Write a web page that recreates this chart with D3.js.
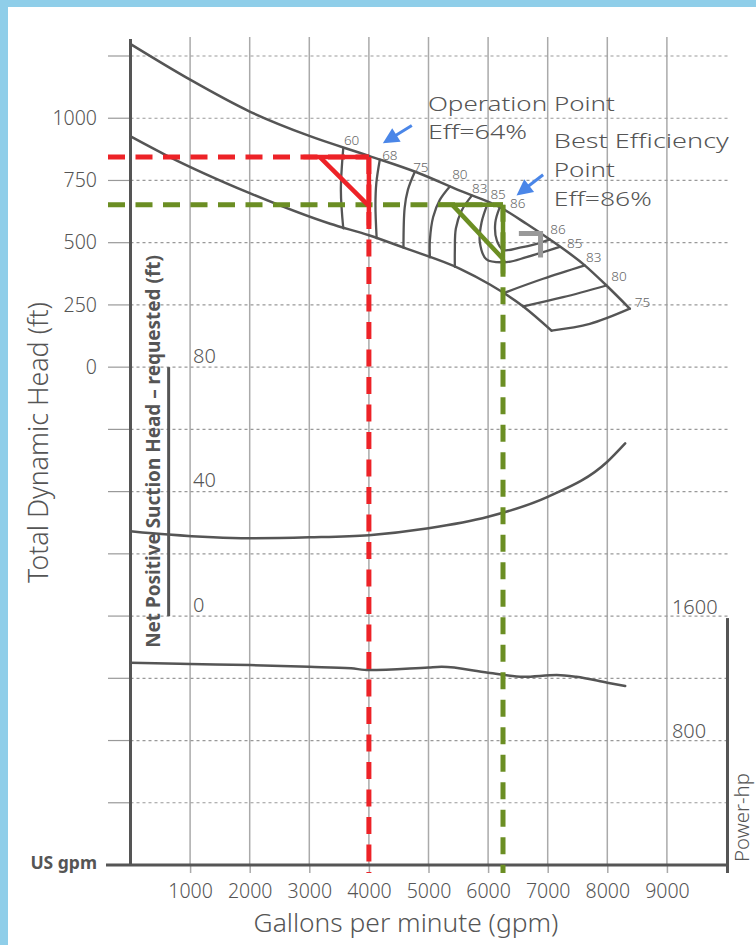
<!DOCTYPE html>
<html><head><meta charset="utf-8">
<script src="https://cdn.jsdelivr.net/npm/d3@7/dist/d3.min.js"></script>
<style>
html,body{margin:0;padding:0;background:#fff;overflow:hidden;}
svg{display:block;}
</style></head><body>
<svg id="chart" width="756" height="945"></svg>
<script>
// ---------------- data ----------------
const gpmTicks   = [1000,2000,3000,4000,5000,6000,7000,8000,9000];
const headTicks  = [0,250,500,750,1000];
const npshTicks  = [0,40,80];
const powerTicks = [800,1600];
const gridLevels = [-1750,-1500,-1250,-1000,-750,-500,-250,0,250,500,750,1000,1250];

// head curves (gpm, ft)
const headUpper = [[0,1298],[1000,1155],[2000,1027],[3000,929],[4000,849],[4800,783],[5526,709],[6197,643],[6644,576],[7035,513],[7622,409],[7986,328],[8377,235]];
const headLower = [[0,927],[600,851],[2000,699],[3350,576],[4000,530],[4630,476],[5530,395],[6030,332],[6590,244],[7064,147]];

// iso-efficiency lines (gpm, ft)
const eff60  = [[3570,880],[3530,710],[3570,558]];
const eff68  = [[4184,834],[4125,740],[4110,650],[4130,518]];
const eff75  = [[4771,785],[4654,712],[4600,640],[4580,480]];
const eff80  = [[5358,726],[5190,672],[5078,603],[5023,509],[5023,441]];
const eff83  = [[5727,689],[5559,630],[5459,557],[5442,469],[5442,403]];
const eff85  = [[6000,662],[5890,581],[5861,502],[5973,433],[6309,422],[6644,442],[7203,483]];
const eff86  = [[6197,643],[6121,581],[6146,509],[6252,471],[6532,480],[6783,493],[7035,513]];
const eff83R = [[6252,297],[6923,355],[7622,409]];
const eff80R = [[6590,244],[7258,281],[7986,328]];
const eff75R = [[7064,147],[7706,174],[8377,235]];
const effLabels = [[60,3710,911],[68,4352,851],[75,4872,804],[80,5526,774],[83,5861,721],[85,6168,696],[86,6498,659],
                   [86,7174,556],[85,7455,498],[83,7773,440],[80,8197,364],[75,8590,261]];
const bepMark = [[6516,537],[6880,537],[6880,441]];

// NPSH required (gpm, ft) and power (gpm, hp)
const npshCurve  = [[0,27.3],[634,26.2],[2000,25.0],[3000,25.3],[4000,26.0],[5000,28.2],[6000,31.9],[7000,38.3],[8000,49.6],[8300,55.5]];
const powerCurve = [[0,1300],[1000,1292],[2000,1285],[3000,1274],[3700,1264],[4000,1253],[5000,1270],[5220,1274],[6000,1236],[6590,1210],[7150,1221],[7480,1210],[8000,1172],[8300,1150]];

// operation point / best efficiency point (gpm, ft)
const opPoint   = [4000,844];
const opSolidH  = [[2900,844],[4000,844]];
const opDiag    = [[3178,844],[3990,650]];
const opSolidV  = [[4000,844],[4000,569]];
const bepPoint  = [6250,652];
const bepSolidH = [[5162,652],[6250,652]];
const bepDiag   = [[5400,652],[6250,435]];
const bepSolidV = [[6250,652],[6250,376]];
const opArrow   = [[4720,971],[4234,899]];
const bepArrow  = [[6923,773],[6477,690]];
const opText    = ["Operation Point","Eff=64%"];
const bepText   = ["Best Efficiency","Point","Eff=86%"];
const opTextAt  = [4990,1031];
const bepTextAt = [7102,879];

// ---------------- layout ----------------
const W = 756, H = 945;
const FONT = "'Noto Sans', sans-serif";
const WT = 300;
const TXT = "#555";
const svg = d3.select('#chart');

const x = d3.scaleLinear().domain([0,10000]).range([130.5,726.5]);
const yHead  = d3.scaleLinear().domain([-2000,1250]).range([865,56]);
const yNpsh  = d3.scaleLinear().domain([0,80]).range([yHead(-1000), yHead(0)]);
const yPow   = d3.scaleLinear().domain([0,1600]).range([yHead(-2000), yHead(-1000)]);
const X0 = x(0), XR = x(10000), YB = yHead(-2000);

// frame
svg.append('rect').attr('width',W).attr('height',H).attr('fill','#8fcee9');
svg.append('rect').attr('x',8).attr('y',7).attr('width',W-8).attr('height',H-7).attr('fill','#fff');

function fit(sel, w){
  const L = sel.node().getComputedTextLength();
  const fs = parseFloat(sel.attr('font-size'));
  sel.attr('font-size', (fs*w/L).toFixed(2));
  return fs*w/L;
}

// vertical grid
svg.append('g').selectAll('line').data(gpmTicks).join('line')
  .attr('x1',d=>x(d)).attr('x2',d=>x(d)).attr('y1',37).attr('y2',YB)
  .attr('stroke','#aaa').attr('stroke-width',1.5);

// horizontal grid: solid tick + dashed line
const hg = svg.append('g');
hg.selectAll('line.t').data(gridLevels).join('line').attr('class','t')
  .attr('x1',X0-22.5).attr('x2',X0).attr('y1',d=>yHead(d)).attr('y2',d=>yHead(d))
  .attr('stroke','#999').attr('stroke-width',1.2);
hg.selectAll('line.d').data(gridLevels).join('line').attr('class','d')
  .attr('x1',X0).attr('x2',XR+1.5).attr('y1',d=>yHead(d)).attr('y2',d=>yHead(d))
  .attr('stroke','#999').attr('stroke-width',1.2).attr('stroke-dasharray','3,3');

// bottom axis with ticks
const ax = svg.append('g').attr('transform',`translate(0,${YB})`)
  .call(d3.axisBottom(x).tickValues(gpmTicks).tickSize(8).tickFormat(d3.format('d')));
ax.select('.domain').remove();
ax.selectAll('line').attr('stroke','#aaa').attr('stroke-width',1.5);
ax.selectAll('text').attr('font-family',FONT).attr('font-weight',WT).attr('font-size',19.5).attr('fill',TXT)
  .attr('y',32.6).attr('dy',0);

// left head labels
const al = svg.append('g').attr('transform',`translate(${X0},0)`)
  .call(d3.axisLeft(yHead).tickValues(headTicks).tickSize(0).tickPadding(33.5).tickFormat(d3.format('d')));
al.select('.domain').remove();
al.selectAll('text').attr('font-family',FONT).attr('font-weight',WT).attr('font-size',19.5).attr('fill',TXT);

// axis lines
svg.append('line').attr('x1',X0).attr('x2',X0).attr('y1',39).attr('y2',YB).attr('stroke','#555').attr('stroke-width',3);
svg.append('line').attr('x1',106).attr('x2',XR+1).attr('y1',YB).attr('y2',YB).attr('stroke','#555').attr('stroke-width',3);
svg.append('line').attr('x1',XR+1).attr('x2',XR+1).attr('y1',yPow(1600)+2).attr('y2',YB+8).attr('stroke','#555').attr('stroke-width',3);

// NPSH axis
svg.append('line').attr('x1',x(640)).attr('x2',x(640)).attr('y1',yNpsh(80)).attr('y2',yNpsh(0)).attr('stroke','#555').attr('stroke-width',3);
svg.append('g').selectAll('text').data(npshTicks).join('text')
  .attr('x',x(1000)+3).attr('y',d=>yNpsh(d)-4.5).text(d=>d)
  .attr('font-family',FONT).attr('font-weight',WT).attr('font-size',20).attr('fill',TXT);
// power labels
svg.append('g').selectAll('text').data(powerTicks).join('text')
  .attr('x',x(9000)+5).attr('y',d=>yPow(d)-2.5).text(d=>d)
  .attr('font-family',FONT).attr('font-weight',WT).attr('font-size',20).attr('fill',TXT);

// curves
const lineH = d3.line().x(d=>x(d[0])).y(d=>yHead(d[1]));
const mono = d3.line().x(d=>x(d[0])).y(d=>yHead(d[1])).curve(d3.curveMonotoneX);
const cr = d3.line().x(d=>x(d[0])).y(d=>yHead(d[1])).curve(d3.curveCatmullRom.alpha(0.5));
const curves = svg.append('g').attr('fill','none').attr('stroke','#555').attr('stroke-linecap','round');
curves.append('path').attr('d',mono(headUpper)).attr('stroke-width',2.5);
curves.append('path').attr('d',mono(headLower)).attr('stroke-width',2.5);
[eff60,eff68,eff75,eff80,eff83,eff85,eff86,eff83R,eff80R,eff75R].forEach(p=>{
  curves.append('path').attr('d',cr(p)).attr('stroke-width',2.3);
});
curves.append('path').attr('d',d3.line().x(d=>x(d[0])).y(d=>yNpsh(d[1])).curve(d3.curveMonotoneX)(npshCurve)).attr('stroke-width',2.5);
curves.append('path').attr('d',d3.line().x(d=>x(d[0])).y(d=>yPow(d[1])).curve(d3.curveMonotoneX)(powerCurve)).attr('stroke-width',2.5);

// efficiency labels
svg.append('g').selectAll('text').data(effLabels).join('text')
  .attr('x',d=>x(d[1])).attr('y',d=>yHead(d[2])).attr('dy','0.36em')
  .attr('text-anchor','middle').text(d=>d[0])
  .attr('font-family',FONT).attr('font-weight',WT).attr('font-size',13.5).attr('fill','#666');

// BEP marker
svg.append('path').attr('d',lineH(bepMark)).attr('fill','none').attr('stroke','#999').attr('stroke-width',5);

// dashed guides
const RED = '#ed2227', GREEN = '#6b8e23';
function guides(pt, color){
  const g = svg.append('g').attr('stroke',color).attr('stroke-width',5).attr('stroke-dasharray','17,10.5');
  g.append('line').attr('x1',X0-22.5).attr('x2',x(pt[0])).attr('y1',yHead(pt[1])).attr('y2',yHead(pt[1]));
  g.append('line').attr('x1',x(pt[0])).attr('x2',x(pt[0])).attr('y1',yHead(pt[1])).attr('y2',YB+8);
}
guides(bepPoint, GREEN);
guides(opPoint, RED);
function solids(arr, color){
  const g = svg.append('g').attr('fill','none').attr('stroke',color).attr('stroke-width',4.5);
  arr.forEach(p=>g.append('path').attr('d',lineH(p)));
}
solids([bepSolidH,bepDiag,bepSolidV], GREEN);
solids([opSolidH,opDiag,opSolidV], RED);

// arrows
function arrow(a){
  const x1=x(a[0][0]), y1=yHead(a[0][1]), x2=x(a[1][0]), y2=yHead(a[1][1]);
  const ang=Math.atan2(y2-y1,x2-x1), L=16, hw=8;
  const bx=x2-L*Math.cos(ang), by=y2-L*Math.sin(ang);
  svg.append('line').attr('x1',x1).attr('y1',y1).attr('x2',bx+2*Math.cos(ang)).attr('y2',by+2*Math.sin(ang))
    .attr('stroke','#4a86e8').attr('stroke-width',3);
  svg.append('path').attr('fill','#4a86e8')
    .attr('d',`M${x2},${y2}L${bx+hw*Math.sin(ang)},${by-hw*Math.cos(ang)}L${bx-hw*Math.sin(ang)},${by+hw*Math.cos(ang)}Z`);
}
arrow(opArrow); arrow(bepArrow);

// annotation text: font size keeps line boxes apart; glyphs widened horizontally to match the wide face
const ANN = 20.3;
const annWidths = {"Operation Point":187,"Eff=64%":99,"Best Efficiency":175,"Point":61,"Eff=86%":98};
function annLine(s, px, py){
  const t = svg.append('text').attr('x',0).attr('y',0)
    .attr('font-family',FONT).attr('font-weight',WT).attr('font-size',ANN).attr('fill',TXT).text(s);
  const sx = annWidths[s]/t.node().getComputedTextLength();
  t.attr('transform',`translate(${px},${py}) scale(${sx.toFixed(3)},1)`);
}
opText.forEach((s,i)=>annLine(s, x(opTextAt[0]), yHead(opTextAt[1])+28*i));
bepText.forEach((s,i)=>annLine(s, x(bepTextAt[0]), yHead(bepTextAt[1])+28.8*i));

// titles
const ty = svg.append('text').attr('transform','translate(37,442.5) rotate(-90)')
  .attr('text-anchor','middle').attr('dominant-baseline','central')
  .attr('font-family',FONT).attr('font-weight',WT).attr('font-size',20).attr('fill',TXT).text('Total Dynamic Head (ft)');
fit(ty,281);
const tx = svg.append('text').attr('x',406).attr('y',931.5).attr('text-anchor','middle')
  .attr('font-family',FONT).attr('font-weight',WT).attr('font-size',20).attr('fill',TXT).text('Gallons per minute (gpm)');
fit(tx,305);
const tp = svg.append('text').attr('transform','translate(740.5,817.5) rotate(-90)')
  .attr('text-anchor','middle').attr('dominant-baseline','central')
  .attr('font-family',FONT).attr('font-weight',WT).attr('font-size',18).attr('fill',TXT).text('Power-hp');
fit(tp,89);
const tn = svg.append('text').attr('transform','translate(153,451.5) rotate(-90)')
  .attr('text-anchor','middle').attr('dominant-baseline','central')
  .attr('font-family',FONT).attr('font-size',15).attr('font-weight','bold').attr('fill',TXT)
  .text('Net Positive Suction Head \u2013 requested (ft)');
fit(tn,393);
svg.append('text').attr('x',97).attr('y',869).attr('text-anchor','end')
  .attr('font-family',FONT).attr('font-size',17.5).attr('font-weight','bold').attr('fill',TXT).text('US gpm');
</script>
</body></html>
